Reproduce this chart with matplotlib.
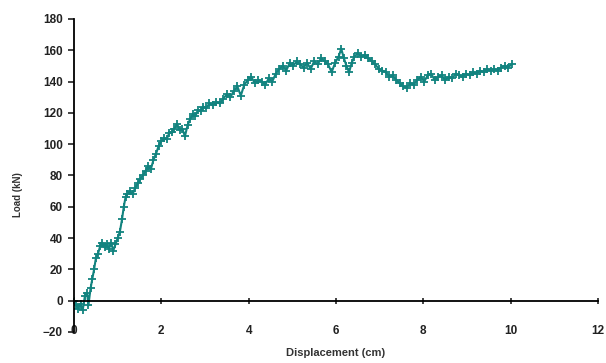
import matplotlib
matplotlib.use("Agg")
from matplotlib import pyplot as plt

# displacement (cm) and load (kN)
disp = [0.00, 0.05, 0.10, 0.15, 0.20, 0.25, 0.30, 0.33, 0.38, 0.42, 0.46, 0.50,
        0.55, 0.60, 0.65, 0.70, 0.75, 0.80, 0.85, 0.90, 0.95, 1.00, 1.05, 1.10,
        1.14, 1.18, 1.22, 1.28, 1.34, 1.40, 1.46, 1.52, 1.58, 1.64, 1.70, 1.76,
        1.82, 1.88, 1.94, 2.00, 2.06, 2.12, 2.18, 2.24, 2.30, 2.36, 2.42, 2.48,
        2.54, 2.60, 2.66, 2.72, 2.78, 2.84, 2.90, 2.96, 3.02, 3.10, 3.18, 3.26,
        3.34, 3.42, 3.50, 3.58, 3.66, 3.74, 3.82, 3.90, 3.98, 4.06, 4.14, 4.22,
        4.30, 4.38, 4.46, 4.54, 4.62, 4.70, 4.78, 4.86, 4.94, 5.02, 5.10, 5.18,
        5.26, 5.34, 5.42, 5.50, 5.58, 5.66, 5.74, 5.82, 5.90, 5.98, 6.06, 6.12,
        6.18, 6.24, 6.30, 6.36, 6.42, 6.50, 6.58, 6.66, 6.74, 6.82, 6.90, 6.98,
        7.06, 7.14, 7.22, 7.30, 7.38, 7.46, 7.54, 7.62, 7.70, 7.78, 7.86, 7.94,
        8.02, 8.10, 8.18, 8.26, 8.34, 8.42, 8.50, 8.58, 8.66, 8.74, 8.82, 8.90,
        8.98, 9.06, 9.14, 9.22, 9.30, 9.38, 9.46, 9.54, 9.62, 9.70, 9.78, 9.86,
        9.94, 10.02]
load = [0, -3, -5, -2, -6, 3, 5, -3, 8, 14, 20, 27,
        30, 35, 37, 34, 36, 33, 37, 32, 36, 40, 44, 52,
        60, 66, 68, 70, 68, 72, 75, 78, 80, 83, 86, 84,
        90, 94, 99, 102, 104, 103, 107, 108, 110, 113, 109, 110,
        105, 112, 116, 119, 118, 122, 121, 124, 123, 126, 125, 127,
        126, 129, 132, 130, 134, 137, 131, 138, 141, 143, 139, 141,
        140, 138, 142, 140, 145, 148, 150, 147, 152, 150, 153, 151,
        149, 152, 148, 153, 151, 155, 153, 151, 146, 152, 156, 161,
        155, 150, 146, 152, 156, 158, 156, 157, 155, 153, 151, 148,
        147, 146, 143, 144, 141, 139, 137, 136, 139, 138, 141, 143,
        140, 144, 145, 141, 143, 144, 141, 143, 142, 145, 144, 143,
        145, 144, 146, 145, 147, 146, 148, 147, 148, 147, 149, 150,
        149, 151]

xticks = [0, 2, 4, 6, 8, 10, 12]
yticks = [-20, 0, 20, 40, 60, 80, 100, 120, 140, 160, 180]

fig = plt.figure(figsize=(6.06, 3.63), dpi=100)
ax = fig.add_axes([0.1221, 0.0854, 0.8647, 0.8623])

ax.plot(disp, load, color="#12837f", lw=1.5, marker="+", ms=6, mew=1.3)

ax.set_xlim(0, 12)
ax.set_ylim(-20, 180)
ax.set_xticks(xticks)
ax.set_yticks(yticks)

ax.spines["top"].set_visible(False)
ax.spines["right"].set_visible(False)
ax.spines["bottom"].set_position(("data", 0))
ax.spines["bottom"].set_linewidth(1.3)
ax.spines["left"].set_linewidth(1.3)

font = dict(family="Liberation Sans", weight="bold")
ax.tick_params(axis="x", direction="inout", length=5, width=1.2, pad=15,
               labelsize=8.5, colors="#222222")
ax.tick_params(axis="y", direction="out", length=4, width=1.2, pad=4,
               labelsize=8.5, colors="#222222")
for lab in ax.get_xticklabels() + ax.get_yticklabels():
    lab.set_fontfamily("Liberation Sans")
    lab.set_fontweight("bold")

ax.set_xlabel("Displacement (cm)", fontsize=8, color="#333333", **font)
ax.set_ylabel("Load (kN)", fontsize=7, color="#333333", **font)
ax.xaxis.set_label_coords(0.5, -0.052)
ax.yaxis.set_label_coords(-0.098, 0.44)

fig.savefig("out.png", dpi=100)
